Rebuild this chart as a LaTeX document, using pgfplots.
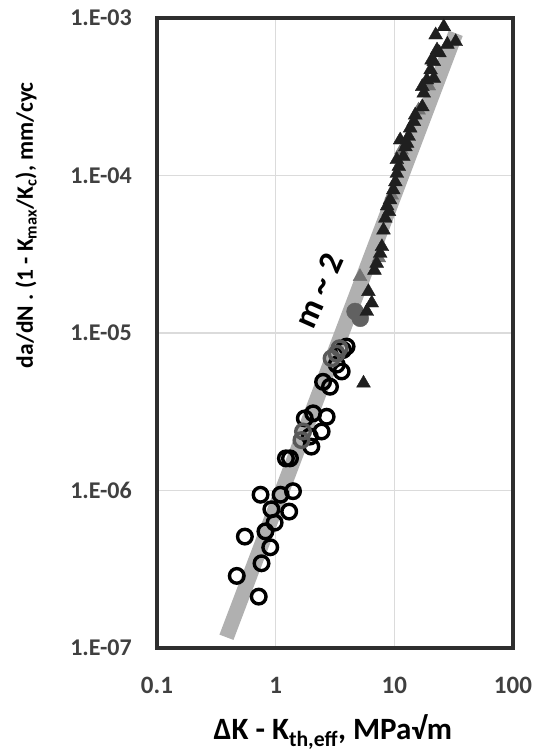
\documentclass[border=0pt]{standalone}
\usepackage{pgfplots}
\pgfplotsset{compat=1.18}
\usepackage{fontspec}
\setmainfont{Carlito}
\definecolor{tickgray}{HTML}{404040}
\definecolor{bandgray}{HTML}{B0B0B0}
\definecolor{framegray}{HTML}{2E2E2E}
\begin{document}
\begin{tikzpicture}
\begin{axis}[
  scale only axis,
  width=356pt, height=630pt,
  xmode=log, ymode=log,
  xmin=0.1, xmax=100, ymin=1e-7, ymax=1e-3,
  xtick={0.1,1,10,100},
  xticklabels={0.1,1,10,100},
  ytick={1e-7,1e-6,1e-5,1e-4,1e-3},
  yticklabels={1.E-07,1.E-06,1.E-05,1.E-04,1.E-03},
  minor xtick={}, minor ytick={},
  tick style={draw=none},
  grid=major,
  major grid style={line width=1.3pt, color=black!14},
  axis line style={line width=3.6pt, color=framegray},
  xticklabel style={font=\fontsize{25}{25}\selectfont\bfseries, text=tickgray, anchor=north, inner sep=0pt, yshift=-29pt},
  yticklabel style={font=\fontsize{24}{24}\selectfont\bfseries, text=tickgray, anchor=east, inner sep=0pt, xshift=-25pt},
  xlabel={ΔK - K\textsubscript{th,eff}, MPa√m},
  xlabel style={font=\fontsize{31}{31}\selectfont\bfseries, at={(axis description cs:0.494,-0.133)}, anchor=center},
  ylabel={da/dN . (1 - K\textsubscript{max}/K\textsubscript{c}), mm/cyc},
  ylabel style={font=\fontsize{23.5}{23.5}\selectfont\bfseries, at={(axis description cs:-0.368,0.671)}, anchor=center},
  clip=true,
]
% fitted band m ~ 2
\addplot[bandgray, line width=15pt, line cap=butt] coordinates {(0.385,1.17e-7) (32.9,8.0e-4)};
% open circles
\addplot[only marks, mark=o, mark size=7.3pt, mark options={line width=3.4pt, draw=black}] coordinates {
(0.746,9.4e-7) (1.40,9.9e-7) (1.10,9.4e-7) (0.92,7.6e-7) (1.30,7.35e-7)
(0.98,6.25e-7) (0.82,5.5e-7) (0.55,5.1e-7) (0.90,4.36e-7) (0.76,3.45e-7)
(0.47,2.87e-7) (0.72,2.12e-7) (1.22,1.6e-6) (1.32,1.6e-6) (1.76,2.87e-6)
(2.07,3.09e-6) (2.69,2.94e-6) (1.94,2.2e-6) (2.44,2.37e-6) (2.0,1.9e-6)
(2.51,4.9e-6) (2.87,4.56e-6) (3.6,5.7e-6) (3.27,6.3e-6) (3.7,7.8e-6) (3.96,8.2e-6)
};
% dark grey circles
\addplot[only marks, mark=o, mark size=7.3pt, mark options={line width=3.4pt, draw=black!65}] coordinates {
(1.70,2.37e-6) (1.65,2.09e-6) (3.27,7.4e-6) (2.96,6.9e-6) (3.45,8.0e-6)
};
\addplot[only marks, mark=*, mark size=8.5pt, mark options={fill=black!62, draw=black!62}] coordinates {
(4.67,1.37e-5) (5.16,1.24e-5)
};
% grey triangles
\addplot[only marks, mark=triangle*, mark size=8pt, mark options={fill=black!55, draw=black!55}] coordinates {
(5.14,2.28e-5) (7.4,3.0e-5) (9.5,7.5e-5) (11.5,1.45e-4) (16.0,2.6e-4) (19.5,3.7e-4)
};
% black triangles
\addplot[only marks, mark=triangle*, mark size=8pt, mark options={fill=black!88, draw=black!88}] coordinates {
(5.5,4.8e-6) (6.05,1.83e-5) (6.45,1.55e-5) (5.86,1.37e-5) (7.1,2.77e-5)
(6.8,2.5e-5) (7.6,3.2e-5) (7.86,3.53e-5) (8.1,4.5e-5) (8.4,5.35e-5)
(9.0,5.9e-5) (8.7,6.4e-5) (9.2,7.0e-5) (9.8,8.1e-5) (10.2,9.1e-5)
(10.5,1.03e-4) (10.9,1.14e-4) (10.5,1.26e-4) (11.9,1.32e-4) (12.4,1.52e-4)
(11.2,1.68e-4) (12.8,1.6e-4) (13.2,1.77e-4) (13.6,2.0e-4) (14.6,2.2e-4)
(15.0,2.42e-4) (17.2,2.73e-4) (17.7,3.33e-4) (17.2,3.67e-4) (18.8,4.04e-4)
(21.5,4.14e-4) (20.2,4.68e-4) (21.5,5.28e-4) (20.6,5.4e-4) (22.9,6.26e-4)
(24.0,6.0e-4) (28.0,6.8e-4) (32.9,7.07e-4) (22.3,7.8e-4) (26.1,8.8e-4)
};
\node[rotate=66, font=\fontsize{34}{34}\selectfont\bfseries, anchor=center, inner sep=0pt] at (axis cs:2.3,1.85e-5) {m \textasciitilde{} 2};
\end{axis}
\pgfresetboundingbox
\path[use as bounding box] (-157pt,-105pt) rectangle (382pt,648pt);
\end{tikzpicture}
\end{document}
